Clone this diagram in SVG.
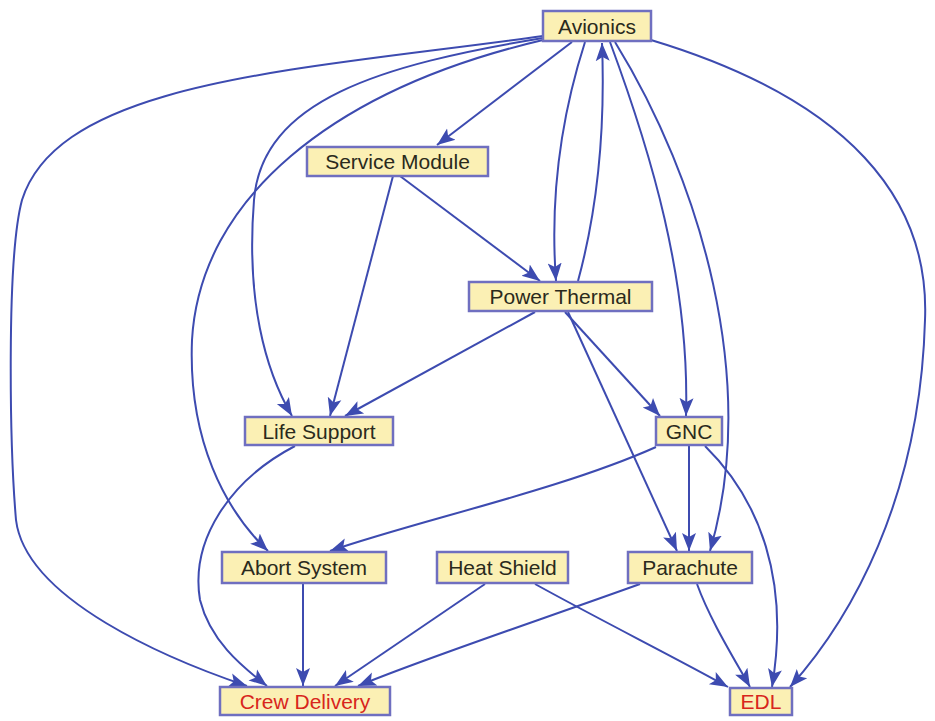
<svg xmlns="http://www.w3.org/2000/svg" width="935" height="721" viewBox="0 0 935 721">
  <style>
    .box { fill: #fbf0b4; stroke: #6f6fc0; stroke-width: 2.5; }
    .lbl { font-family: "Liberation Sans", Arial, sans-serif; font-size: 21px; fill: #2a2a1c; text-anchor: middle; dominant-baseline: central; }
    .red { fill: #d8261c; }
    .edge { fill: none; stroke: #3d4bb0; stroke-width: 2; marker-end: url(#arrow); }
  </style>
  <defs>
    <marker id="arrow" markerUnits="userSpaceOnUse" markerWidth="22" markerHeight="18" viewBox="0 -9 22 18" refX="18" refY="0" orient="auto">
      <path d="M0,-7 L18,0 L0,7 L4,0 z" fill="#3d4bb0"/>
    </marker>
  </defs>
  <rect width="935" height="721" fill="#ffffff"/>

  <g id="connectors">
    <!-- from Avionics -->
    <path class="edge" d="M543,36 C 300,70 60,80 22,200 C 6,260 10,450 16,520 C 26,600 170,660 247,686"/>
    <path class="edge" d="M543,38 C 380,65 262,100 254,200 C 246,300 265,370 292,416"/>
    <path class="edge" d="M543,40 C 330,90 200,200 192,340 C 188,440 225,510 268,551"/>
    <path class="edge" d="M572,42 L437,145"/>
    <path class="edge" d="M585,42 C 560,120 550,200 556,281"/>
    <path class="edge" d="M578,281 C 600,200 605,120 602,43"/>
    <path class="edge" d="M610,42 C 650,150 690,280 686,416"/>
    <path class="edge" d="M615,42 C 700,180 760,380 710,551"/>
    <path class="edge" d="M651,40 C 850,100 930,200 925,320 C 920,500 850,620 790,687"/>
    <!-- from Service Module -->
    <path class="edge" d="M400,176 L540,281"/>
    <path class="edge" d="M393,176 L330,416"/>
    <!-- from Power Thermal -->
    <path class="edge" d="M535,312 L345,416"/>
    <path class="edge" d="M565,312 L660,416"/>
    <path class="edge" d="M568,312 L677,551"/>
    <!-- from Life Support -->
    <path class="edge" d="M295,446 C 230,480 190,540 200,600 C 210,640 240,665 267,686"/>
    <!-- from GNC -->
    <path class="edge" d="M656,447 C 560,490 420,520 330,551"/>
    <path class="edge" d="M689,446 L689,551"/>
    <path class="edge" d="M705,446 C 760,500 790,580 772,687"/>
    <!-- into Crew Delivery and EDL -->
    <path class="edge" d="M303,584 L303,686"/>
    <path class="edge" d="M485,584 L335,686"/>
    <path class="edge" d="M535,584 C 600,620 680,660 728,687"/>
    <path class="edge" d="M640,584 C 540,620 420,660 358,686"/>
    <path class="edge" d="M697,584 C 710,620 735,660 750,687"/>
  </g>

  <g id="avionics"><rect class="box" x="543" y="11" width="108" height="30"/><text class="lbl" x="597" y="26">Avionics</text></g>
  <g id="service-module"><rect class="box" x="307" y="147" width="181" height="29"/><text class="lbl" x="397.5" y="161.5">Service Module</text></g>
  <g id="power-thermal"><rect class="box" x="469" y="282" width="183" height="29"/><text class="lbl" x="560.5" y="296.5">Power Thermal</text></g>
  <g id="life-support"><rect class="box" x="245" y="417" width="148" height="28"/><text class="lbl" x="319" y="431">Life Support</text></g>
  <g id="gnc"><rect class="box" x="656" y="417" width="66" height="28"/><text class="lbl" x="689" y="431">GNC</text></g>
  <g id="abort-system"><rect class="box" x="222" y="552" width="164" height="31"/><text class="lbl" x="304" y="567.5">Abort System</text></g>
  <g id="heat-shield"><rect class="box" x="437" y="552" width="131" height="31"/><text class="lbl" x="502.5" y="567.5">Heat Shield</text></g>
  <g id="parachute"><rect class="box" x="628" y="552" width="124" height="31"/><text class="lbl" x="690" y="567.5">Parachute</text></g>
  <g id="crew-delivery"><rect class="box" x="220" y="687" width="170" height="28"/><text class="lbl red" x="305" y="701">Crew Delivery</text></g>
  <g id="edl"><rect class="box" x="730" y="688" width="62" height="27"/><text class="lbl red" x="761" y="701.5">EDL</text></g>
</svg>
